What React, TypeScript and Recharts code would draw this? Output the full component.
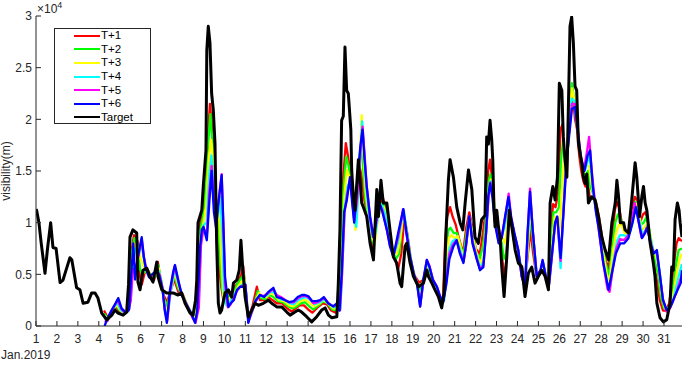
import { LineChart, Line, XAxis, YAxis, Legend } from 'recharts';

type Pt = [number, number];

const DAY_TICKS = Array.from({ length: 31 }, (_, i) => i + 1);
const VIS_TICKS = [0, 5000, 10000, 15000, 20000, 25000, 30000];
const DAY_MAX = 31.86;
const FONT = '"Liberation Sans", Arial, Helvetica, sans-serif';
const AXIS = '#262626';

// hourly-ish visibility (m) as [day of Jan, value]
const target: Pt[] = [
  [1.0, 11300], [1.03, 11200], [1.14, 10000], [1.25, 8000], [1.43, 5100], [1.55, 7500], [1.7, 10000],
  [1.81, 7600], [1.96, 7500], [2.15, 4200], [2.29, 4450], [2.45, 5500], [2.62, 6600], [2.71, 6400],
  [2.94, 3700], [3.1, 3500], [3.25, 2200], [3.48, 2300], [3.66, 3200], [3.82, 3200], [3.96, 2700],
  [4.14, 1250], [4.38, 600], [4.62, 1050], [4.77, 1550], [4.92, 1250], [5.16, 1050], [5.33, 1350],
  [5.42, 4000], [5.49, 8600], [5.63, 9300], [5.81, 9000], [5.87, 4250], [5.97, 3500], [6.11, 5400],
  [6.29, 5600], [6.45, 4750], [6.59, 4250], [6.77, 6200], [6.83, 4750], [7.01, 3500], [7.24, 3200],
  [7.55, 3200], [7.78, 3000], [7.96, 3200], [8.12, 2200], [8.36, 1250], [8.5, 1050], [8.62, 2500],
  [8.68, 4450], [8.74, 10000], [8.92, 11200], [8.99, 13500], [9.12, 17000], [9.16, 26700], [9.23, 29000],
  [9.31, 27400], [9.39, 22500], [9.47, 20900], [9.55, 17700], [9.63, 8000], [9.71, 2200], [9.79, 1250],
  [9.87, 1550], [10.03, 3200], [10.19, 3500], [10.35, 2800], [10.43, 4150], [10.59, 4450], [10.71, 5400],
  [10.79, 8300], [10.88, 5400], [10.99, 2800], [11.14, 900], [11.31, 1550], [11.46, 2200], [11.62, 2000],
  [11.86, 2200], [12.1, 2500], [12.26, 2200], [12.5, 1850], [12.74, 1850], [12.98, 1350], [13.14, 1050],
  [13.37, 1350], [13.53, 1550], [13.69, 1350], [13.93, 900], [14.17, 400], [14.41, 900], [14.65, 1550],
  [14.81, 1750], [14.97, 1050], [15.13, 800], [15.37, 900], [15.44, 4000], [15.52, 9300], [15.6, 19900],
  [15.68, 20300], [15.76, 27000], [15.84, 22800], [15.92, 22500], [16.04, 19000], [16.08, 15100],
  [16.16, 12500], [16.24, 11200], [16.4, 16100], [16.48, 14100], [16.56, 11900], [16.64, 11500],
  [16.8, 10600], [16.96, 8000], [17.12, 6400], [17.28, 13200], [17.36, 10600], [17.48, 14100],
  [17.59, 11900], [17.76, 11900], [17.91, 9300], [18.07, 6700], [18.23, 6100], [18.39, 4150], [18.47, 3800],
  [18.63, 7700], [18.71, 8000], [18.87, 6100], [19.03, 4800], [19.27, 3800], [19.51, 4150], [19.67, 5400],
  [19.74, 4800], [19.91, 4150], [20.06, 3500], [20.22, 2850], [20.38, 1750], [20.49, 3200], [20.59, 9300],
  [20.7, 14100], [20.78, 16100], [20.94, 14400], [21.1, 11500], [21.26, 10000], [21.39, 9300], [21.5, 11900],
  [21.66, 15100], [21.82, 13200], [21.97, 8600], [22.13, 8000], [22.29, 10300], [22.45, 10700], [22.53, 18300],
  [22.61, 17600], [22.69, 19900], [22.77, 18000], [22.82, 16100], [22.88, 11200], [22.93, 9600], [23.01, 11200],
  [23.09, 9600], [23.17, 8600], [23.25, 5700], [23.36, 2850], [23.49, 6700], [23.61, 11200], [23.73, 9600],
  [23.89, 7350], [24.04, 6100], [24.21, 5700], [24.36, 2850], [24.52, 5100], [24.68, 5700], [24.84, 4150],
  [25.0, 4800], [25.16, 5400], [25.32, 4800], [25.48, 3500], [25.56, 11900], [25.69, 13500], [25.8, 12200],
  [25.91, 14400], [26.0, 23500], [26.12, 22800], [26.19, 18300], [26.27, 16100], [26.36, 14400], [26.43, 20900],
  [26.51, 29000], [26.59, 29900], [26.67, 27400], [26.75, 23200], [26.83, 22800], [26.91, 17700], [26.99, 16700],
  [27.07, 15800], [27.15, 14400], [27.23, 13800], [27.31, 14700], [27.39, 11900], [27.55, 12500], [27.71, 12200],
  [27.87, 10600], [28.03, 8600], [28.19, 7350], [28.35, 6400], [28.51, 10000], [28.67, 11900], [28.75, 14100],
  [28.83, 12500], [28.91, 10000], [29.07, 10000], [29.14, 9300], [29.3, 9000], [29.46, 12200], [29.62, 15800],
  [29.7, 14400], [29.83, 10600], [29.94, 12500], [30.02, 13500], [30.1, 11900], [30.18, 11200], [30.34, 8000],
  [30.49, 6100], [30.57, 4800], [30.66, 2200], [30.81, 800], [30.97, 400], [31.13, 600], [31.29, 2200],
  [31.37, 5700], [31.45, 5400], [31.53, 10300], [31.64, 11900], [31.72, 11200], [31.77, 10000], [31.86, 8600],
];

const tPlus1: Pt[] = [
  [4.25, 1500], [4.4, 900], [4.6, 1200], [4.8, 1900], [4.95, 1500], [5.15, 1100], [5.35, 1400], [5.45, 2500],
  [5.55, 7000], [5.68, 8800], [5.85, 8200], [5.95, 5000], [6.05, 4000], [6.2, 5200], [6.35, 5400], [6.5, 4700],
  [6.65, 4500], [6.82, 6200], [6.92, 4800], [7.1, 3000], [7.25, 2300], [7.4, 3200], [7.6, 4500], [7.8, 3300],
  [8.0, 3100], [8.2, 2100], [8.4, 1300], [8.55, 1100], [8.7, 3500], [8.8, 9500], [8.95, 11000], [9.05, 13000],
  [9.2, 18000], [9.31, 21500], [9.4, 19300], [9.5, 16700], [9.58, 11200], [9.65, 9600], [9.75, 5500],
  [9.85, 3800], [9.95, 2500], [10.1, 3000], [10.25, 3300], [10.4, 3000], [10.5, 3800], [10.65, 4200],
  [10.8, 5000], [10.9, 5800], [11.0, 3500], [11.1, 1500], [11.2, 1000], [11.35, 2000], [11.55, 3800],
  [11.7, 2500], [11.9, 2500], [12.1, 2800], [12.3, 2500], [12.5, 2200], [12.75, 2200], [13.0, 1700],
  [13.2, 1400], [13.4, 1700], [13.6, 2000], [13.8, 2000], [14.0, 1600], [14.2, 1300], [14.45, 1800],
  [14.7, 2200], [14.9, 2100], [15.1, 1500], [15.3, 1300], [15.45, 1600], [15.55, 7000], [15.68, 14400],
  [15.8, 17700], [15.9, 16500], [16.0, 15000], [16.1, 13500], [16.2, 12000], [16.3, 12500], [16.45, 15500],
  [16.55, 14500], [16.7, 12000], [16.85, 10800], [17.0, 8500], [17.12, 7500], [17.3, 11500], [17.4, 11000],
  [17.55, 12500], [17.7, 11500], [17.85, 10000], [18.0, 7500], [18.15, 6500], [18.3, 5500], [18.45, 7000],
  [18.6, 10500], [18.75, 8800], [18.9, 6500], [19.05, 5000], [19.3, 4200], [19.55, 4500], [19.7, 5600],
  [19.85, 4700], [20.0, 3900], [20.2, 3200], [20.35, 2300], [20.45, 3000], [20.55, 8500], [20.65, 10600],
  [20.78, 11500], [20.9, 10600], [21.05, 9800], [21.2, 8500], [21.4, 7000], [21.55, 9500], [21.7, 11000],
  [21.85, 9500], [22.0, 7500], [22.2, 7000], [22.35, 9000], [22.5, 11500], [22.6, 15000], [22.69, 16100],
  [22.8, 14000], [22.9, 11000], [23.0, 9600], [23.1, 9200], [23.2, 8000], [23.3, 6000], [23.4, 4500],
  [23.5, 7500], [23.6, 10500], [23.75, 9500], [23.9, 7500], [24.05, 6300], [24.2, 5800], [24.35, 4000],
  [24.5, 7000], [24.62, 9300], [24.75, 7000], [24.9, 5000], [25.05, 5000], [25.2, 5300], [25.35, 4800],
  [25.5, 4500], [25.6, 9500], [25.7, 11800], [25.82, 11500], [25.95, 13000], [26.05, 19000], [26.15, 19500],
  [26.25, 16000], [26.35, 14500], [26.45, 19000], [26.55, 22500], [26.65, 22000], [26.75, 20000],
  [26.85, 19000], [26.95, 16500], [27.05, 15000], [27.15, 14000], [27.25, 13500], [27.35, 14000],
  [27.45, 12500], [27.6, 12500], [27.75, 12000], [27.9, 10500], [28.05, 8500], [28.2, 6500], [28.35, 5500],
  [28.5, 8000], [28.65, 11200], [28.75, 12000], [28.85, 11500], [29.0, 9800], [29.15, 9300], [29.3, 9000],
  [29.45, 10500], [29.6, 12500], [29.72, 12200], [29.85, 10000], [30.0, 10800], [30.1, 11000], [30.2, 10500],
  [30.35, 8000], [30.5, 6200], [30.65, 4500], [30.8, 2500], [30.95, 1500], [31.1, 1500], [31.25, 2200],
  [31.4, 4500], [31.5, 6500], [31.6, 8000], [31.7, 8500], [31.86, 8200],
];

const tPlus2: Pt[] = [
  [4.26, 1200], [4.4, 800], [4.6, 1300], [4.82, 2000], [4.97, 1600], [5.15, 1200], [5.35, 1400], [5.47, 2500],
  [5.57, 7000], [5.7, 8500], [5.85, 7800], [5.97, 5500], [6.08, 5000], [6.22, 5300], [6.38, 5200], [6.55, 4700],
  [6.7, 4800], [6.84, 5900], [6.95, 4700], [7.12, 2600], [7.25, 1900], [7.42, 3300], [7.6, 4900], [7.8, 3600],
  [8.0, 3000], [8.2, 2100], [8.42, 1200], [8.57, 900], [8.72, 3000], [8.82, 9000], [8.97, 10500], [9.08, 12500],
  [9.22, 17500], [9.33, 20500], [9.42, 18000], [9.52, 15000], [9.6, 11000], [9.71, 10000], [9.8, 6000],
  [9.9, 3500], [10.0, 2300], [10.15, 2800], [10.3, 3000], [10.45, 3200], [10.6, 4000], [10.8, 4600],
  [10.92, 5000], [11.02, 3500], [11.12, 1200], [11.22, 900], [11.4, 2000], [11.6, 3400], [11.75, 2700],
  [11.95, 2600], [12.15, 3000], [12.35, 2800], [12.55, 2400], [12.8, 2300], [13.05, 1900], [13.25, 1700],
  [13.45, 1900], [13.65, 2200], [13.85, 2300], [14.05, 1900], [14.25, 1600], [14.5, 2000], [14.72, 2400],
  [14.92, 2200], [15.15, 1600], [15.35, 1500], [15.48, 1700], [15.58, 6500], [15.7, 13500], [15.82, 16400],
  [15.93, 15500], [16.03, 14500], [16.13, 12500], [16.23, 11000], [16.35, 13000], [16.5, 17500], [16.6, 16000],
  [16.72, 12500], [16.87, 10500], [17.02, 8500], [17.15, 7800], [17.32, 11000], [17.45, 11500], [17.58, 12000],
  [17.72, 10800], [17.88, 9200], [18.03, 7200], [18.2, 6500], [18.35, 7000], [18.52, 10500], [18.65, 10000],
  [18.8, 7800], [18.95, 6000], [19.1, 4800], [19.32, 3500], [19.52, 4500], [19.68, 5800], [19.85, 5000],
  [20.02, 4000], [20.22, 3200], [20.38, 1900], [20.48, 3000], [20.58, 7500], [20.7, 9300], [20.8, 9500],
  [20.95, 9000], [21.1, 9000], [21.25, 8000], [21.42, 6800], [21.57, 9000], [21.7, 10500], [21.86, 9000],
  [22.02, 7200], [22.2, 6500], [22.38, 8000], [22.52, 11000], [22.62, 14000], [22.71, 14700], [22.82, 13500],
  [22.93, 10500], [23.03, 9500], [23.13, 8800], [23.25, 8000], [23.35, 6500], [23.47, 7000], [23.58, 10500],
  [23.72, 10000], [23.88, 8000], [24.05, 6800], [24.2, 5500], [24.35, 3900], [24.5, 7800], [24.62, 10500],
  [24.75, 8000], [24.9, 5000], [25.05, 5000], [25.2, 5600], [25.35, 4800], [25.5, 4200], [25.62, 8500],
  [25.72, 11000], [25.85, 11000], [25.98, 11500], [26.08, 16000], [26.18, 18000], [26.28, 15500],
  [26.38, 16000], [26.5, 21000], [26.6, 23500], [26.7, 22000], [26.8, 20000], [26.9, 18500], [27.0, 16500],
  [27.12, 15000], [27.25, 14500], [27.37, 15000], [27.48, 13500], [27.62, 12800], [27.78, 11500],
  [27.92, 10000], [28.07, 7800], [28.22, 6000], [28.37, 4800], [28.52, 7500], [28.67, 10000], [28.8, 10800],
  [28.92, 10500], [29.05, 9500], [29.2, 9000], [29.35, 9000], [29.5, 10800], [29.63, 12000], [29.76, 11500],
  [29.9, 9800], [30.03, 10000], [30.15, 10500], [30.28, 9500], [30.42, 7800], [30.57, 6300], [30.72, 5000],
  [30.85, 2800], [31.0, 1700], [31.15, 1600], [31.3, 2100], [31.45, 4000], [31.58, 6000], [31.7, 7350],
  [31.86, 7500],
];

const tPlus3: Pt[] = [
  [4.27, 1000], [4.42, 700], [4.62, 1400], [4.85, 2100], [5.0, 1600], [5.2, 1200], [5.38, 1400], [5.5, 2500],
  [5.6, 6500], [5.72, 8000], [5.88, 7500], [6.0, 6500], [6.12, 6000], [6.25, 5300], [6.4, 5000], [6.58, 4800],
  [6.72, 5000], [6.86, 5600], [6.98, 4500], [7.15, 2000], [7.27, 1400], [7.45, 3500], [7.62, 5200], [7.8, 3900],
  [8.0, 3000], [8.22, 2000], [8.45, 1100], [8.6, 700], [8.75, 2500], [8.85, 8500], [9.0, 10000], [9.12, 11500],
  [9.25, 16000], [9.36, 18000], [9.45, 16500], [9.55, 13000], [9.65, 11000], [9.75, 11000], [9.85, 7000],
  [9.95, 3000], [10.05, 2200], [10.2, 2500], [10.35, 2900], [10.5, 3200], [10.65, 3800], [10.82, 4300],
  [10.95, 4500], [11.05, 3200], [11.13, 900], [11.25, 900], [11.45, 2200], [11.65, 3200], [11.8, 2800],
  [12.0, 2800], [12.2, 3200], [12.4, 3000], [12.6, 2500], [12.85, 2400], [13.1, 2000], [13.3, 1900],
  [13.5, 2200], [13.7, 2500], [13.9, 2500], [14.1, 2200], [14.3, 1900], [14.55, 2200], [14.75, 2500],
  [14.95, 2200], [15.2, 1700], [15.4, 1700], [15.52, 1700], [15.62, 6000], [15.73, 12500], [15.85, 15100],
  [15.96, 14500], [16.06, 13500], [16.16, 11500], [16.26, 9300], [16.4, 13500], [16.56, 20400], [16.64, 17000],
  [16.75, 13000], [16.9, 10500], [17.05, 8600], [17.18, 8000], [17.35, 10500], [17.48, 11500], [17.62, 11500],
  [17.76, 10200], [17.92, 8500], [18.08, 7000], [18.25, 7000], [18.4, 8500], [18.55, 11000], [18.68, 9500],
  [18.83, 7200], [19.0, 5500], [19.15, 4500], [19.35, 2500], [19.55, 4800], [19.68, 6000], [19.85, 5300],
  [20.02, 4200], [20.22, 3300], [20.38, 1870], [20.5, 2800], [20.6, 6000], [20.72, 8500], [20.85, 8800],
  [21.0, 8500], [21.15, 8700], [21.3, 7500], [21.45, 6500], [21.6, 8700], [21.72, 10500], [21.88, 8500],
  [22.05, 7000], [22.22, 6000], [22.4, 7000], [22.55, 10500], [22.65, 13500], [22.73, 14200], [22.85, 13000],
  [22.97, 10200], [23.07, 9000], [23.18, 8500], [23.3, 8500], [23.42, 8000], [23.57, 11000], [23.72, 10200],
  [23.88, 8500], [24.05, 7000], [24.22, 5000], [24.37, 3800], [24.52, 8500], [24.63, 11500], [24.76, 8500],
  [24.92, 5000], [25.08, 5200], [25.22, 6000], [25.37, 4800], [25.52, 4000], [25.65, 7500], [25.76, 10500],
  [25.88, 10500], [26.02, 9500], [26.12, 13000], [26.25, 16500], [26.35, 16500], [26.48, 20500], [26.6, 23000],
  [26.7, 22000], [26.82, 20500], [26.92, 18500], [27.03, 16500], [27.15, 15000], [27.3, 15500], [27.42, 15500],
  [27.52, 14000], [27.65, 12500], [27.8, 11000], [27.95, 9500], [28.1, 7000], [28.27, 5000], [28.4, 4300],
  [28.55, 7000], [28.7, 9000], [28.85, 9800], [28.97, 9800], [29.12, 9000], [29.27, 8800], [29.42, 9500],
  [29.55, 11200], [29.68, 11800], [29.8, 10800], [29.95, 9300], [30.07, 9500], [30.2, 10000], [30.33, 9000],
  [30.47, 7500], [30.62, 6800], [30.76, 5500], [30.9, 3000], [31.05, 1700], [31.2, 1600], [31.35, 2000],
  [31.5, 3700], [31.62, 5300], [31.75, 6500], [31.86, 7000],
];

const tPlus4: Pt[] = [
  [4.28, 700], [4.44, 600], [4.65, 1500], [4.88, 2300], [5.03, 1600], [5.22, 1250], [5.4, 1400], [5.52, 2500],
  [5.62, 6000], [5.75, 7500], [5.9, 7000], [6.03, 8000], [6.15, 6500], [6.27, 5400], [6.43, 4800], [6.6, 5000],
  [6.75, 5200], [6.88, 5300], [7.0, 4200], [7.17, 1500], [7.28, 900], [7.45, 3500], [7.63, 5600], [7.8, 4100],
  [7.98, 3000], [8.22, 2000], [8.48, 900], [8.62, 500], [8.77, 2000], [8.87, 8000], [9.02, 9800], [9.15, 10000],
  [9.27, 14500], [9.38, 16500], [9.48, 14000], [9.58, 11500], [9.68, 10500], [9.8, 12500], [9.9, 9000],
  [9.98, 3500], [10.1, 2000], [10.25, 2300], [10.4, 2800], [10.55, 3300], [10.7, 3700], [10.85, 4000],
  [10.98, 4200], [11.06, 2800], [11.14, 600], [11.28, 1100], [11.48, 2300], [11.68, 3000], [11.85, 2800],
  [12.05, 3000], [12.25, 3400], [12.45, 3100], [12.65, 2600], [12.9, 2500], [13.12, 2200], [13.32, 2100],
  [13.52, 2500], [13.72, 2700], [13.9, 2800], [14.1, 2500], [14.32, 2100], [14.57, 2300], [14.77, 2600],
  [14.97, 2200], [15.22, 1800], [15.4, 1900], [15.54, 1600], [15.63, 5500], [15.75, 11500], [15.88, 13500],
  [15.99, 14000], [16.09, 12800], [16.19, 10500], [16.3, 9600], [16.45, 15000], [16.58, 19800], [16.66, 17500],
  [16.77, 13500], [16.92, 10500], [17.08, 8600], [17.22, 9000], [17.37, 11000], [17.5, 11800], [17.65, 11000],
  [17.8, 9700], [17.95, 8000], [18.1, 6900], [18.28, 8000], [18.45, 10000], [18.57, 11200], [18.7, 9200],
  [18.85, 7000], [19.02, 5200], [19.18, 4300], [19.36, 2100], [19.53, 4600], [19.68, 6200], [19.82, 5500],
  [20.0, 4300], [20.2, 3500], [20.36, 2500], [20.5, 2500], [20.62, 5000], [20.75, 7500], [20.9, 8200],
  [21.05, 8400], [21.2, 7800], [21.38, 6500], [21.52, 7500], [21.7, 10500], [21.86, 8200], [22.05, 6800],
  [22.22, 5600], [22.38, 6300], [22.52, 9500], [22.63, 13000], [22.72, 14000], [22.84, 12800], [22.97, 9800],
  [23.1, 8500], [23.22, 8600], [23.38, 9500], [23.56, 12000], [23.7, 10300], [23.86, 8800], [24.04, 7200],
  [24.22, 4900], [24.37, 3700], [24.5, 8800], [24.62, 12300], [24.74, 9000], [24.92, 4900], [25.1, 5300],
  [25.22, 6200], [25.37, 4800], [25.52, 4000], [25.66, 7200], [25.8, 10000], [25.92, 10300], [26.06, 5600],
  [26.2, 11500], [26.32, 16000], [26.46, 19000], [26.58, 22000], [26.72, 21800], [26.86, 19500], [26.98, 17000],
  [27.1, 15500], [27.25, 15200], [27.4, 16500], [27.5, 15500], [27.62, 13000], [27.77, 11000], [27.9, 9500],
  [28.08, 6500], [28.3, 4000], [28.42, 3800], [28.58, 6200], [28.75, 8200], [28.9, 8800], [29.05, 8800],
  [29.22, 8700], [29.4, 9200], [29.55, 10800], [29.68, 11500], [29.82, 10200], [29.97, 8800], [30.1, 9200],
  [30.22, 9800], [30.36, 8500], [30.5, 7200], [30.65, 7000], [30.8, 5200], [30.93, 2800], [31.1, 1600],
  [31.25, 1700], [31.42, 2300], [31.55, 3500], [31.7, 4800], [31.86, 6000],
];

const tPlus5: Pt[] = [
  [4.28, 400], [4.42, 500], [4.62, 1500], [4.9, 2500], [5.06, 1700], [5.25, 1250], [5.42, 1500], [5.53, 2500],
  [5.63, 5500], [5.73, 5500], [5.9, 6800], [6.05, 8400], [6.16, 6600], [6.27, 5500], [6.43, 4700], [6.6, 5000],
  [6.76, 5300], [6.9, 5000], [7.03, 3800], [7.16, 1500], [7.27, 500], [7.42, 3500], [7.62, 5800], [7.8, 4300],
  [7.97, 3000], [8.22, 2000], [8.5, 700], [8.62, 300], [8.78, 1800], [8.88, 7800], [9.0, 9500], [9.16, 8800],
  [9.28, 13000], [9.39, 15500], [9.5, 12000], [9.6, 10000], [9.74, 12500], [9.87, 14700], [9.96, 9000],
  [10.03, 4000], [10.17, 1800], [10.3, 2100], [10.45, 2700], [10.6, 3400], [10.75, 3800], [10.9, 3900],
  [11.0, 4000], [11.08, 2200], [11.15, 400], [11.3, 1300], [11.5, 2400], [11.7, 3000], [11.88, 2900],
  [12.1, 3200], [12.32, 3600], [12.5, 3000], [12.7, 2800], [12.92, 2500], [13.12, 2300], [13.32, 2300],
  [13.52, 2700], [13.72, 2900], [13.88, 2900], [14.05, 2700], [14.25, 2200], [14.45, 2300], [14.6, 2500],
  [14.78, 2700], [14.97, 2200], [15.2, 1900], [15.38, 2100], [15.52, 1500], [15.62, 5000], [15.74, 11000],
  [15.87, 12800], [16.0, 14200], [16.1, 12300], [16.2, 10200], [16.33, 12000], [16.5, 17000], [16.6, 19300],
  [16.7, 16500], [16.8, 13500], [16.95, 10600], [17.1, 8600], [17.26, 10000], [17.4, 11800], [17.54, 11300],
  [17.74, 9500], [17.9, 7900], [18.07, 6800], [18.3, 8600], [18.53, 11300], [18.68, 9100], [18.86, 6800],
  [19.04, 5100], [19.2, 4200], [19.35, 1900], [19.52, 4500], [19.67, 6400], [19.8, 5800], [19.96, 4500],
  [20.16, 3800], [20.32, 2800], [20.46, 2400], [20.6, 4300], [20.75, 7000], [20.92, 7900], [21.08, 8300],
  [21.24, 7200], [21.42, 6200], [21.55, 7800], [21.7, 10600], [21.86, 8100], [22.05, 6600], [22.21, 5500],
  [22.37, 5900], [22.5, 9000], [22.62, 12500], [22.7, 13900], [22.82, 12600], [22.96, 9700], [23.1, 8200],
  [23.24, 8600], [23.4, 10300], [23.58, 12800], [23.7, 10500], [23.86, 8900], [24.04, 7300], [24.2, 4800],
  [24.36, 3700], [24.49, 9000], [24.6, 13300], [24.73, 9300], [24.92, 4800], [25.1, 5400], [25.2, 6300],
  [25.36, 4800], [25.51, 4000], [25.66, 7000], [25.8, 10000], [25.9, 10500], [26.06, 6300], [26.2, 11200],
  [26.34, 16000], [26.48, 19000], [26.6, 21500], [26.74, 21500], [26.88, 19000], [27.02, 16500], [27.18, 15200],
  [27.33, 17000], [27.42, 18300], [27.55, 15000], [27.7, 12000], [27.85, 9800], [28.08, 6300], [28.3, 3600],
  [28.4, 3300], [28.55, 5500], [28.72, 7500], [28.9, 8400], [29.08, 8300], [29.27, 8700], [29.45, 10000],
  [29.6, 11900], [29.75, 10500], [29.92, 8600], [30.07, 9000], [30.2, 9600], [30.35, 8200], [30.5, 7100],
  [30.65, 7200], [30.8, 5000], [30.95, 2600], [31.12, 1400], [31.28, 1700], [31.45, 2500], [31.6, 3300],
  [31.75, 4300], [31.86, 5000],
];

const tPlus6: Pt[] = [
  [4.28, 0], [4.4, 700], [4.6, 1500], [4.8, 2200], [4.93, 2700], [5.09, 1700], [5.3, 1300], [5.45, 1600],
  [5.55, 5000], [5.65, 8000], [5.73, 4500], [5.85, 6500], [6.05, 8600], [6.15, 6700], [6.25, 5500], [6.4, 4700],
  [6.6, 5100], [6.77, 5400], [6.9, 4800], [7.05, 3500], [7.15, 1500], [7.25, 300], [7.4, 3500], [7.55, 5200],
  [7.64, 5900], [7.8, 4400], [7.96, 3000], [8.2, 2000], [8.4, 1300], [8.6, 300], [8.7, 1500], [8.84, 7700],
  [8.92, 9300], [9.0, 9600], [9.16, 8300], [9.28, 12000], [9.39, 15000], [9.5, 11000], [9.6, 9500],
  [9.72, 12000], [9.87, 14600], [9.95, 10000], [10.03, 4800], [10.19, 1850], [10.3, 2200], [10.45, 2500],
  [10.6, 3500], [10.75, 3800], [10.9, 3800], [11.0, 4000], [11.08, 2000], [11.14, 300], [11.3, 1500],
  [11.5, 2500], [11.7, 3000], [11.9, 2800], [12.1, 3300], [12.34, 3700], [12.5, 2800], [12.7, 2700],
  [12.9, 2500], [13.1, 2300], [13.3, 2400], [13.5, 2800], [13.7, 3000], [13.85, 3000], [14.0, 2900],
  [14.2, 2400], [14.4, 2400], [14.57, 2500], [14.75, 2800], [14.95, 2200], [15.2, 1900], [15.37, 2200],
  [15.5, 1500], [15.6, 5000], [15.72, 11000], [15.85, 12200], [16.0, 14400], [16.1, 12000], [16.2, 10000],
  [16.35, 14000], [16.5, 17500], [16.6, 19000], [16.7, 16000], [16.8, 13500], [16.96, 10600], [17.12, 8600],
  [17.28, 10600], [17.4, 12000], [17.55, 11000], [17.76, 9300], [17.91, 7700], [18.07, 6700], [18.3, 9000],
  [18.55, 11300], [18.7, 9000], [18.87, 6700], [19.05, 5000], [19.2, 4150], [19.35, 1870], [19.5, 4500],
  [19.67, 6400], [19.8, 5700], [19.95, 4500], [20.15, 3800], [20.3, 2850], [20.45, 2300], [20.6, 4000],
  [20.75, 6500], [20.94, 7700], [21.1, 8300], [21.25, 7000], [21.42, 6100], [21.55, 8000], [21.7, 10600],
  [21.85, 8000], [22.05, 6500], [22.21, 5400], [22.37, 5700], [22.5, 9000], [22.6, 12500], [22.69, 13800],
  [22.8, 12500], [22.95, 9600], [23.1, 8000], [23.25, 8500], [23.4, 10500], [23.57, 12500], [23.7, 10500],
  [23.85, 9000], [24.04, 7350], [24.2, 4800], [24.36, 3800], [24.48, 9000], [24.6, 13000], [24.72, 9500],
  [24.92, 4800], [25.1, 5400], [25.2, 6400], [25.35, 4800], [25.5, 4000], [25.65, 7000], [25.8, 10000],
  [25.9, 10600], [26.06, 6600], [26.2, 11000], [26.35, 16100], [26.5, 19000], [26.6, 21000], [26.75, 21200],
  [26.9, 18500], [27.05, 16000], [27.2, 15000], [27.35, 16500], [27.47, 17000], [27.6, 13500], [27.75, 11000],
  [27.87, 9600], [28.1, 6100], [28.35, 3500], [28.5, 5000], [28.7, 7000], [28.91, 8000], [29.1, 8000],
  [29.3, 8500], [29.5, 10000], [29.65, 11500], [29.8, 10000], [29.95, 8500], [30.1, 9000], [30.2, 9500],
  [30.35, 8000], [30.5, 7000], [30.66, 7350], [30.8, 5000], [30.95, 2500], [31.13, 1550], [31.3, 1800],
  [31.5, 2800], [31.65, 3500], [31.8, 4150], [31.86, 5400],
];

const SERIES: { name: string; color: string; width: number; points: Pt[] }[] = [
  { name: 'T+1', color: '#ff0000', width: 2.3, points: tPlus1 },
  { name: 'T+2', color: '#00ff00', width: 2.3, points: tPlus2 },
  { name: 'T+3', color: '#ffff00', width: 2.3, points: tPlus3 },
  { name: 'T+4', color: '#00ffff', width: 2.3, points: tPlus4 },
  { name: 'T+5', color: '#ff00ff', width: 2.3, points: tPlus5 },
  { name: 'T+6', color: '#0000ff', width: 2.3, points: tPlus6 },
  { name: 'Target', color: '#000000', width: 3, points: target },
];

const toRows = (pts: Pt[]) => pts.map(([d, v]) => ({ d, v }));

function LegendBox() {
  return (
    <div
      style={{
        width: 97, height: 96, boxSizing: 'border-box', border: `1px solid ${AXIS}`,
        background: '#fff', fontFamily: FONT,
      }}
    >
      {SERIES.map((s) => (
        <div key={s.name} style={{ display: 'flex', alignItems: 'center', height: 13.6 }}>
          <svg width={26} height={4} style={{ marginLeft: 19, display: 'block' }}>
            <line x1={0} y1={2} x2={26} y2={2} stroke={s.color} strokeWidth={2} />
          </svg>
          <span style={{ fontSize: 11.5, marginLeft: 1, color: '#000', lineHeight: '13px' }}>{s.name}</span>
        </div>
      ))}
    </div>
  );
}

const tickStyle = { fill: AXIS, fontSize: 12, fontFamily: FONT };

// y label plus the MATLAB-style exponent above the axis
const leftLabel = ({ viewBox }: any) => {
  const top = viewBox?.y ?? 16;
  const h = viewBox?.height ?? 310;
  const cy = top + h / 2;
  return (
    <g>
      <text
        x={10} y={cy} transform={`rotate(-90 10 ${cy})`} textAnchor="middle"
        fill={AXIS} fontSize={12} fontFamily={FONT}
      >
        visibility(m)
      </text>
      <text x={37} y={top - 3} fill={AXIS} fontSize={12} fontFamily={FONT}>
        ×10<tspan fontSize={9} dy={-5}>4</tspan>
      </text>
    </g>
  );
};

export default function App() {
  return (
    <div style={{ position: 'absolute', left: 0, top: 0, background: '#fff' }}>
      <LineChart width={685} height={366} margin={{ top: 16, right: 3, bottom: 0, left: 0 }}>
        <XAxis
          dataKey="d"
          type="number"
          domain={[1, DAY_MAX]}
          ticks={DAY_TICKS}
          allowDataOverflow
          height={40}
          tickSize={-5}
          tickMargin={13}
          tick={tickStyle}
          stroke={AXIS}
          interval={0}
          label={{
            content: () => (
              <text x={1} y={359} fill={AXIS} fontSize={12} fontFamily={FONT}>Jan.2019</text>
            ),
          }}
        />
        <XAxis
          xAxisId="top"
          orientation="top"
          dataKey="d"
          type="number"
          domain={[1, DAY_MAX]}
          ticks={DAY_TICKS}
          allowDataOverflow
          height={0}
          tickSize={-5}
          tick={false}
          stroke={AXIS}
          interval={0}
        />
        <YAxis
          type="number"
          domain={[0, 30000]}
          ticks={VIS_TICKS}
          allowDataOverflow
          width={36}
          tickSize={-5}
          tickMargin={9}
          tick={tickStyle}
          tickFormatter={(v: number) => String(v / 10000)}
          stroke={AXIS}
          interval={0}
          label={{ content: leftLabel }}
        />
        <YAxis
          yAxisId="right"
          orientation="right"
          type="number"
          domain={[0, 30000]}
          ticks={VIS_TICKS}
          allowDataOverflow
          width={0}
          tickSize={-5}
          tick={false}
          stroke={AXIS}
          interval={0}
        />
        <Legend
          layout="vertical"
          align="center"
          verticalAlign="middle"
          content={() => <LegendBox />}
          wrapperStyle={{ left: 54, top: 28, width: 97, height: 96 }}
        />
        {SERIES.map((s) => (
          <Line
            key={s.name}
            data={toRows(s.points)}
            dataKey="v"
            name={s.name}
            type="linear"
            stroke={s.color}
            strokeWidth={s.width}
            strokeLinejoin="round"
            dot={false}
            activeDot={false}
            isAnimationActive={false}
          />
        ))}
      </LineChart>
    </div>
  );
}
